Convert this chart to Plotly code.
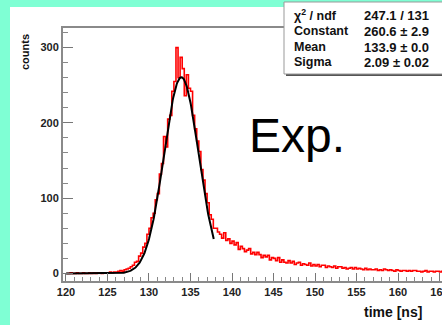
import numpy as np
import plotly.graph_objects as go

# ---- data ----
bin_width = 0.25
hist_start = 120.0
counts = [
    0, 0, 1, 0,      # 120
    0, 1, 0, 0,      # 121
    1, 0, 0, 1,      # 122
    0, 1, 0, 1,      # 123
    1, 0, 1, 1,      # 124
    1, 2, 1, 2,      # 125
    2, 3, 4, 3,      # 126
    5, 6, 7, 9,      # 127
    11, 15, 16, 23,  # 128
    27, 35, 40, 52,  # 129
    60, 74, 80, 98,  # 130
    106, 132, 146, 182,  # 131
    168, 205, 210, 242,  # 132
    255, 300, 260, 287,  # 133
    272, 236, 264, 246,  # 134
    242, 210, 192, 176,  # 135
    162, 138, 124, 106,  # 136
    94, 78, 72, 60,  # 137
    60, 55, 52, 47,  # 138
    54, 44, 46, 40,  # 139
    43, 38, 41, 32,  # 140
    36, 33, 29, 31,  # 141
    33, 26, 28, 25,  # 142
    28, 25, 21, 24,  # 143
    22, 24, 18, 21,  # 144
    20, 17, 21, 15,  # 145
    18, 15, 14, 17,  # 146
    14, 16, 12, 14,  # 147
    15, 11, 13, 12,  # 148
    11, 14, 10, 12,  # 149
    10, 12, 9, 11,   # 150
    11, 8, 10, 9,    # 151
    8, 10, 7, 9,     # 152
    9, 7, 8, 6,      # 153
    7, 8, 6, 8,      # 154
    6, 7, 6, 5,      # 155
    7, 5, 6, 5,      # 156
    5, 6, 4, 5,      # 157
    4, 6, 5, 4,      # 158
    5, 4, 3, 5,      # 159
    4, 3, 4, 4,      # 160
    3, 4, 3, 4,      # 161
    4, 3, 3, 2,      # 162
    3, 4, 2, 3,      # 163
    3, 2, 3, 3,      # 164
    2, 3, 3, 2,      # 165
]

# Gaussian fit parameters (from stats box)
fit_constant = 260.6
fit_mean = 133.9
fit_sigma = 2.09
fit_range = [120.0, 137.8]

stat_labels = ["χ<sup>2</sup> / ndf", "Constant", "Mean", "Sigma"]
stat_values = ["247.1 / 131", "260.6 ± 2.9", "133.9 ± 0.0", "2.09 ± 0.02"]

# ---- build ----
counts_arr = np.array(counts, dtype=float)
centers = hist_start + bin_width * (np.arange(len(counts)) + 0.5)

fx = np.linspace(fit_range[0], fit_range[1], 300)
fy = fit_constant * np.exp(-0.5 * ((fx - fit_mean) / fit_sigma) ** 2)

W, H = 442, 325
L, R, T, B = 63, 0, 28, 44
pw, ph = W - L - R, H - T - B

def px(x):
    return (x - L) / pw

def py(y):
    return (H - B - y) / ph

fig = go.Figure()
fig.add_trace(go.Scatter(
    x=centers, y=counts_arr, mode="lines", line=dict(color="#ff0000", width=1.6, shape="hvh"),
    showlegend=False, hoverinfo="skip"))
fig.add_trace(go.Scatter(
    x=fx, y=fy, mode="lines", line=dict(color="#000000", width=2),
    showlegend=False, hoverinfo="skip"))

tickfont = dict(family="Liberation Sans, Arial", size=11, color="#222222", weight="bold")

fig.update_xaxes(
    range=[119.64, 165.3], showgrid=False, zeroline=False, automargin=False,
    showline=True, linecolor="#8a8a8a", linewidth=2, mirror=True,
    ticks="inside", ticklen=8, tickwidth=1, tickcolor="#777777",
    tick0=120, dtick=5, tickfont=tickfont, ticklabeloverflow="allow",
    minor=dict(ticks="inside", ticklen=4, dtick=1, tickcolor="#888888", tickwidth=1, showgrid=False),
)
fig.update_yaxes(
    range=[-10, 326], showgrid=False, zeroline=False, automargin=False,
    showline=True, linecolor="#8a8a8a", linewidth=2,
    ticks="inside", ticklen=10, tickwidth=1, tickcolor="#777777",
    tick0=0, dtick=100, tickfont=tickfont,
    minor=dict(ticks="inside", ticklen=5, dtick=20, tickcolor="#888888", tickwidth=1, showgrid=False),
)

aqua = "#7fffd4"
shapes = [
    # aquamarine border strips (left and top)
    dict(type="rect", xref="paper", yref="paper", x0=px(-5), x1=px(10), y0=py(340), y1=py(-5),
         fillcolor=aqua, line=dict(width=0), layer="below"),
    dict(type="rect", xref="paper", yref="paper", x0=px(-5), x1=px(460), y0=py(7), y1=py(-5),
         fillcolor=aqua, line=dict(width=0), layer="below"),
    # stats box shadow
    dict(type="rect", xref="paper", yref="paper", x0=px(286), x1=px(470), y0=py(76), y1=py(4),
         fillcolor="#555555", line=dict(width=0)),
    # stats box
    dict(type="rect", xref="paper", yref="paper", x0=px(284), x1=px(470), y0=py(74), y1=py(2),
         fillcolor="white", line=dict(color="#999999", width=1)),
]

lab_font = dict(family="Liberation Sans, Arial", size=12.5, color="#111111", weight="bold")
val_font = dict(family="Liberation Sans, Arial", size=13, color="#111111", weight="bold")
annotations = []
row_y = [15, 31, 47, 62]
for lab, val, yy in zip(stat_labels, stat_values, row_y):
    annotations.append(dict(xref="paper", yref="paper", x=px(292), y=py(yy), text=lab,
                            showarrow=False, xanchor="left", yanchor="middle", font=lab_font))
    annotations.append(dict(xref="paper", yref="paper", x=px(362), y=py(yy),
                            text=val.replace(" / ", "&nbsp;/&nbsp;"),
                            showarrow=False, xanchor="left", yanchor="middle", font=val_font))

annotations.append(dict(xref="paper", yref="paper", x=px(25), y=py(52), text="counts",
                        textangle=-90, showarrow=False, xanchor="center", yanchor="middle",
                        font=dict(family="Liberation Sans, Arial", size=11, color="#111111", weight="bold")))
annotations.append(dict(xref="paper", yref="paper", x=px(393), y=py(312), text="time [ns]",
                        showarrow=False, xanchor="center", yanchor="middle",
                        font=dict(family="Liberation Sans, Arial", size=14, color="#111111", weight="bold")))
annotations.append(dict(xref="paper", yref="paper", x=px(297), y=py(135), text="Exp.",
                        showarrow=False, xanchor="center", yanchor="middle",
                        font=dict(family="Liberation Sans, Arial", size=48, color="#000000")))

fig.update_layout(
    width=W, height=H, margin=dict(l=L, r=R, t=T, b=B, pad=0),
    paper_bgcolor="white", plot_bgcolor="white",
    shapes=shapes, annotations=annotations, showlegend=False,
)

fig.write_html("out.html")
